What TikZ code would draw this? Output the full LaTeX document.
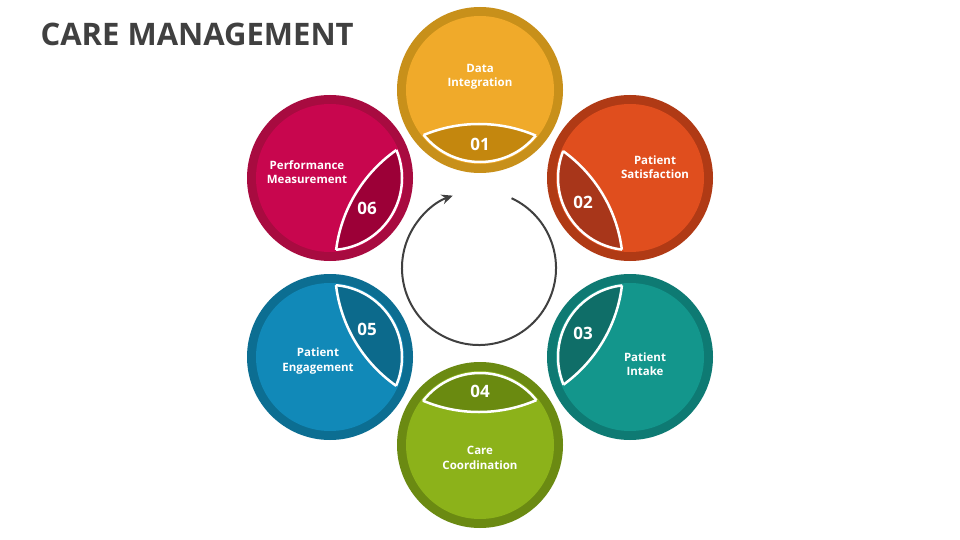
\documentclass[tikz,border=0pt]{standalone}
\usepackage{fontspec}
\setmainfont{Open Sans}
\usetikzlibrary{arrows.meta,calc}
\begin{document}
\begin{tikzpicture}[x=1pt,y=-1pt,
  lbl/.style={text=white,font=\fontsize{11.5}{14.5}\selectfont\bfseries,align=center},
  num/.style={text=white,font=\fontsize{17}{20}\selectfont\bfseries}]
\useasboundingbox (0,0) rectangle (960,540);
\fill[white] (0,0) rectangle (960,540);
\node[anchor=west,text=black!75,font=\fontsize{31}{36}\selectfont\bfseries] (title) at (37,34) {CARE MANAGEMENT};
\coordinate (C) at (479,268);
\foreach \cx/\cy/\ring/\main/\seg/\nx/\ny/\n/\tx/\ty/\txt in {
 480/90/C8901A/F0AA2A/C4870E/480/144/01/480/77/{Data\\Integration},
 630/178/B03A15/E04E1E/A8361A/583/202/02/655/167/{Patient\\Satisfaction},
 630/357/0E7A73/13968C/0F6E68/583/333/03/645/364/{Patient\\Intake},
 480/445/6B8A12/8CB21A/6A8A10/480/391/04/480/458/{Care\\Coordination},
 330/357/0C6E92/1189B8/0C6A8C/367/329/05/318/361/{Patient\\Engagement},
 330/178/A80B40/C8064E/9C0037/367/208/06/307/172/{Performance\\Measurement}}{
  \definecolor{rc}{HTML}{\ring}\definecolor{mc}{HTML}{\main}\definecolor{sc}{HTML}{\seg}
  \fill[rc] (\cx,\cy) circle (83);
  \fill[mc] (\cx,\cy) circle (74);
  \begin{scope}\clip (C) circle (144);
    \fill[sc,draw=white,line width=2.5pt] (\cx,\cy) circle (72);
  \end{scope}
  \begin{scope}\clip (\cx,\cy) circle (72);
    \draw[white,line width=2.5pt] (C) circle (144);
  \end{scope}
  \node[num] at (\nx,\ny) {\n};
  \node[lbl] at (\tx,\ty) {\txt};
}
\coordinate (a0) at ($(C)+(-65:77)$);
\draw[black!75,line width=2pt,-{Stealth[length=11pt,width=10pt]}] (a0) arc[start angle=-65,end angle=250,radius=77];
\end{tikzpicture}
\end{document}
